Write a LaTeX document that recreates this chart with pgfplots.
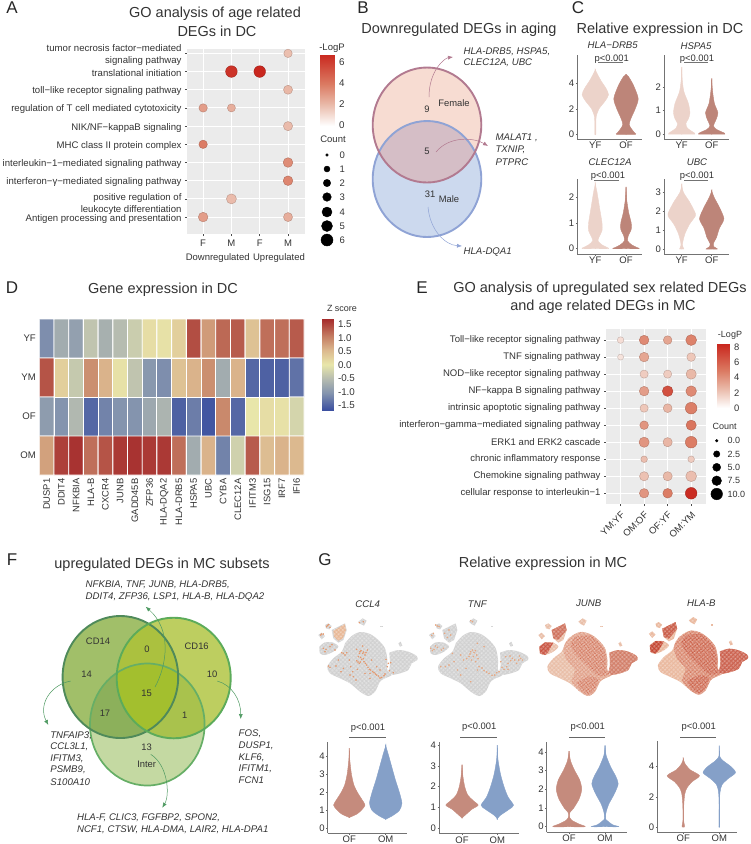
\documentclass[border=0pt]{standalone}
\usepackage{fontspec}
\setmainfont{Liberation Sans}
\usepackage{pgfplots}
\usepackage{pgfplotstable}
\pgfplotsset{compat=1.18}
\usetikzlibrary{patterns.meta,arrows.meta}

\definecolor{ink}{HTML}{333333}
\definecolor{yfc}{HTML}{ECD3CA}
\definecolor{ofc}{HTML}{BD8579}
\definecolor{ofg}{HTML}{C58B7D}
\definecolor{omg}{HTML}{85A0C8}
\newcommand{\hc}[1]{\definecolor{#1}{HTML}{#1}}
\hc{F7DCD2}\hc{CCD9EE}\hc{D5BEC6}\hc{8FA3D5}\hc{B27A90}\hc{C4D9A2}\hc{A1BF69}\hc{BDCE60}
\hc{ABC13F}\hc{8CB05B}\hc{A9C24D}\hc{A3BF2E}\hc{66AE66}\hc{4F8A5A}\hc{5CAB5A}\hc{4F9A62}
\hc{E8B795}\hc{E5976B}\hc{E8A67F}\hc{E9BDA6}\hc{DB8C74}\hc{D27C66}\hc{C9523F}\hc{CE6F5A}
\hc{C2402C}\hc{EAB79C}\hc{D26E58}\hc{CB5F4C}\hc{C4442F}\hc{C95A45}\hc{BC3826}\hc{D0654D}
\newcommand{\fz}[1]{\fontsize{#1}{#1}\selectfont}

\tikzset{
  ttl/.style={font=\fz{14.5},text=ink},
  let/.style={font=\fz{17},text=black!85},
  gn/.style={font=\fz{9.65}\itshape,text=ink},
  lab/.style={font=\fz{9.4},text=ink},
  grain/.style={pattern={Dots[radius=.27pt,distance=1.25pt,angle=17]},pattern color=white},
  speck/.style={pattern={Dots[radius=.27pt,distance=1.5pt,angle=-23]},pattern color=#1},
}
\pgfplotsset{
  colormap={golog}{rgb255(0)=(255,255,255) rgb255(20)=(233,184,167) rgb255(38)=(219,122,98) rgb255(65)=(201,39,30)},
  colormap={zscore}{rgb255(0)=(60,80,160) rgb255(6)=(132,148,174) rgb255(11)=(182,188,176) rgb255(16)=(232,230,170) rgb255(21)=(220,185,143) rgb255(26)=(196,125,99) rgb255(32)=(166,44,44)},
  every axis/.append style={scale only axis,/pgf/number format/assume math mode=true,
    tick label style={font=\fz{9.5},text=ink}},
  place/.style n args={4}{at={(#1pt,-#2pt)},anchor=north west,width=#3pt,height=#4pt},
  dots/.style={only marks,scatter,scatter src=explicit,mark=*,
    visualization depends on={\thisrow{r}\as\rr},
    scatter/@pre marker code/.append style={/tikz/mark size=\rr}},
  goaxis/.style={colormap name=golog,point meta min=0,point meta max=6.8,
    axis background/.style={fill=black!8},axis line style={draw=none},
    grid=major,grid style={white,line width=1pt},
    xtick pos=bottom,ytick pos=left,tick align=outside,major tick length=2pt,
    tick style={black!70,line width=.6pt},
    yticklabel style={align=right},clip=false},
  bar/.style={xmin=0,xmax=1,xtick=\empty,axis line style={draw=none},
    ytick pos=right,yticklabel pos=right,tick align=inside,major tick length=3pt,
    tick style={white,line width=.5pt},
    yticklabel style={xshift=1.5pt,font=\fz{9.8}}},
  vio/.style={xmin=0,axis x line*=bottom,axis y line*=left,
    axis line style={black!55,line width=.9pt,-},
    tick style={black!60,line width=.5pt},major tick length=1.5pt,tick align=outside,
    xticklabels={YF,OF},enlargelimits=false,
    x tick label style={yshift=2pt},y tick label style={xshift=2pt}},
  tsne/.style={xmin=0,xmax=660,ymin=0,ymax=300,y dir=reverse,hide axis,clip=false},
}
\newcommand{\violin}[3]{%
  \addplot[fill=#2,draw=#2,line width=.4pt,smooth,tension=.45] table[row sep=\\,x expr=#1-\thisrow{w}+.3,y=y]{#3} -- cycle;
  \addplot[fill=#2,draw=#2,line width=.4pt,smooth,tension=.45] table[row sep=\\,x expr=#1+\thisrow{w}-.3,y=y]{#3} -- cycle;}

% GO dots, panel A
\pgfplotstableread{
x y r v
4 10 4.2 1.9
2 9 5.8 6.4
3 9 5.8 6.8
4 8 4.5 2.1
1 7 4.2 2.9
2 7 4.0 2.4
4 6 4.6 2.0
1 5 4.2 3.9
4 4 4.8 3.4
4 3 4.8 3.6
2 2 5.0 2.0
1 1 4.8 2.9
4 1 4.5 2.4
}\goA
% GO dots, panel E
\pgfplotstableread{
x y r v
1 10 3.3 1.2
2 10 4.8 4.2
3 10 4.3 3.2
4 10 5.4 4.5
1 9 3.0 1.0
2 9 4.8 3.2
4 9 4.3 2.0
2 8 4.1 1.8
3 8 4.1 1.8
4 8 5.1 2.5
2 7 4.8 3.5
3 7 5.3 6.5
4 7 5.3 4.2
2 6 4.1 2.0
3 6 4.4 2.6
4 6 5.8 4.6
2 5 4.3 3.8
4 5 5.1 5.0
2 4 5.1 3.8
3 4 4.6 2.6
4 4 5.8 4.7
2 3 3.3 2.3
4 3 3.3 1.8
2 2 4.6 2.2
3 2 4.6 2.5
4 2 5.4 2.3
2 1 4.7 3.8
3 1 4.8 4.7
4 1 5.8 8.0
}\goE
% size legends, page position
\pgfplotstableread{
x y r
327 155 1.3
327 169 3.0
327 183 3.7
327 197 4.3
327 212 5.0
327 226 5.5
327 240 6.0
716.7 440.7 1.3
716.7 454 3.2
716.7 467.3 4.0
716.7 480.7 4.8
716.7 494 5.8
}\sizes
% expressing cells on the tSNE maps
\pgfplotstableread{
x y
150 125
158 130
165 135
145 140
155 148
162 155
140 152
148 160
170 165
178 178
188 185
196 192
205 198
215 202
225 192
235 160
242 158
228 148
250 188
120 195
130 200
118 150
95 128
105 135
60 172
55 168
85 150
140 118
172 120
185 150
158 108
200 170
210 180
122 170
100 175
138 210
165 190
180 205
75 120
45 125
60 110
40 115
35 72
50 50
56 44
60 52
148 38
160 35
153 122
161 126
148 130
168 128
152 142
160 146
144 156
151 156
166 160
174 172
182 180
192 188
200 195
210 204
222 197
238 182
232 170
110 128
100 130
180 190
142 178
128 185
93 185
78 168
48 118
66 104
32 75
40 72
52 46
}\hotccl
\pgfplotstableread{
x y
150 125
160 128
168 135
145 140
152 150
165 155
120 135
128 150
95 130
175 170
190 182
205 190
222 195
235 185
250 178
262 160
275 145
288 160
296 138
305 150
255 140
240 155
190 110
170 100
120 195
150 215
85 165
60 170
40 118
50 112
62 120
35 122
55 50
45 45
38 70
72 70
85 60
155 35
155 120
164 122
148 132
158 140
172 146
138 146
170 180
184 174
198 186
214 196
228 188
244 172
258 170
270 152
282 150
294 150
268 138
300 145
262 178
136 175
110 180
100 155
74 170
44 108
30 115
68 115
90 75
80 82
50 48
33 76
150 32
}\hottnf

\newcommand{\blobs}[1]{%
  \addplot[#1,smooth,tension=.5] coordinates {(105,100)(125,78)(150,66)(180,72)(205,90)(225,115)(232,150)(232,180)(245,195)(225,205)(210,215)(195,245)(175,258)(150,245)(120,220)(90,205)(60,190)(52,170)(70,145)(95,125)(105,100)};
  \addplot[#1,smooth,tension=.5] coordinates {(238,128)(265,120)(295,125)(320,138)(322,150)(305,160)(295,180)(270,190)(245,195)(235,190)(240,165)(238,128)};
  \addplot[#1,smooth,tension=.5] coordinates {(28,110)(45,97)(70,98)(85,110)(70,125)(45,135)(30,130)(28,110)};
  \addplot[#1] coordinates {(65,60)(85,50)(105,40)(110,60)(100,90)(85,98)(70,85)};
  \addplot[#1] coordinates {(25,75)(35,68)(45,78)(35,88)};
  \addplot[#1] coordinates {(45,45)(55,40)(65,48)(58,58)(48,55)};
  \addplot[#1] coordinates {(145,35)(158,25)(170,32)(162,47)(152,42)};
  \addplot[#1] coordinates {(265,100)(272,95)(277,107)(270,110)};
  \addplot[#1] coordinates {(210,47)(218,47)(218,52)(210,52)};}
\newcommand{\hotwide}[1]{%
  \addplot[#1,smooth,tension=.5] coordinates {(115,85)(150,66)(180,72)(205,90)(225,115)(232,150)(232,180)(245,195)(225,205)(210,215)(195,245)(175,258)(150,245)(125,215)(135,180)(110,150)(100,115)(115,85)};}
\newcommand{\hotparts}[1]{%
  \addplot[#1,smooth,tension=.5] coordinates {(135,80)(180,76)(203,93)(222,118)(229,150)(229,180)(240,192)(205,197)(175,170)(140,135)(122,105)(135,80)};
  \addplot[#1,smooth,tension=.5] coordinates {(140,218)(175,200)(205,208)(192,242)(175,254)(155,242)(140,218)};}

\begin{document}
\begin{tikzpicture}
\path[use as bounding box] (0,0) rectangle (751pt,-844pt);

% everything that is only text, arrows, size legends and Venn shapes sits on a page-sized axis
\begin{axis}[place={0}{0}{751}{844},xmin=0,xmax=751,ymin=0,ymax=844,y dir=reverse,hide axis,clip=false]
% panel letters
\node[let] at (12,8) {A};
\node[let] at (363,8) {B};
\node[let] at (578,8) {C};
\node[let] at (12,288) {D};
\node[let] at (422,288) {E};
\node[let] at (12,560) {F};
\node[let] at (325,560) {G};
% titles
\node[ttl] at (215,14) {GO analysis of age related};
\node[ttl] at (217,31) {DEGs in DC};
\node[ttl] at (459,30) {Downregulated DEGs in aging};
\node[ttl] at (660,30) {Relative expression in DC};
\node[ttl] at (163,290) {Gene expression in DC};
\node[ttl] at (600,289) {GO analysis of upregulated sex related DEGs};
\node[ttl] at (603,307) {and age related DEGs in MC};
\node[ttl] at (162,565) {upregulated DEGs in MC subsets};
\node[ttl] at (543,564) {Relative expression in MC};
% panel A extras
\node[lab,font=\fz{9.5}] at (217.7,258) {Downregulated};
\node[lab,font=\fz{9.5}] at (279,258) {Upregulated};
\node[lab,font=\fz{9.5}] at (332,48) {-LogP};
\node[lab,font=\fz{9.5}] at (333,139) {Count};
\addplot[only marks,scatter,scatter src=y,mark=*,scatter/use mapped color={draw=black,fill=black},
  visualization depends on={\thisrow{r}\as\rr},
  scatter/@pre marker code/.append style={/tikz/mark size=\rr}] table[x=x,y=y] {\sizes};
\node[lab,anchor=west,font=\fz{9.5}] at (336,155) {0};
\node[lab,anchor=west,font=\fz{9.5}] at (336,169) {1};
\node[lab,anchor=west,font=\fz{9.5}] at (336,183) {2};
\node[lab,anchor=west,font=\fz{9.5}] at (336,197) {3};
\node[lab,anchor=west,font=\fz{9.5}] at (336,212) {4};
\node[lab,anchor=west,font=\fz{9.5}] at (336,226) {5};
\node[lab,anchor=west,font=\fz{9.5}] at (336,240) {6};
% panel E extras
\node[lab,font=\fz{9}] at (730,335) {-LogP};
\node[lab,font=\fz{9}] at (724.7,426.7) {Count};
\node[lab,anchor=west,font=\fz{9}] at (724,440.7) {0.0};
\node[lab,anchor=west,font=\fz{9}] at (724,454) {2.5};
\node[lab,anchor=west,font=\fz{9}] at (724,467.3) {5.0};
\node[lab,anchor=west,font=\fz{9}] at (724,480.7) {7.5};
\node[lab,anchor=west,font=\fz{9}] at (724,494) {10.0};
\node[lab,font=\fz{9}] at (342,308) {Z score};

% Venn, panel B
\fill[fill=F7DCD2] (427,125) circle[x radius=54.3pt,y radius=57.5pt];
\fill[fill=CCD9EE] (427,179) circle[x radius=54.3pt,y radius=58pt];
\begin{scope}
\clip (427,125) circle[x radius=54.3pt,y radius=57.5pt];
\fill[fill=D5BEC6] (427,179) circle[x radius=54.3pt,y radius=58pt];
\end{scope}
\draw[draw=8FA3D5,line width=1.9pt] (427,179) circle[x radius=54.3pt,y radius=58pt];
\draw[draw=B27A90,line width=1.9pt] (427,125) circle[x radius=54.3pt,y radius=57.5pt];
\draw[B27A90,-{Latex[length=5pt,width=4pt]},line width=.5pt] (429,97) .. controls (429,70) and (445,58) .. (453,57);
\draw[B27A90,-{Latex[length=5pt,width=4pt]},line width=.5pt] (436,152) .. controls (450,135) and (475,138) .. (488,146);
\draw[8FA3D5,-{Latex[length=5pt,width=4pt]},line width=.5pt] (428,207) .. controls (430,230) and (445,245) .. (462,246);
\node[lab] at (427,109) {9};
\node[lab] at (454,103) {Female};
\node[lab] at (427,151) {5};
\node[lab] at (430,194) {31};
\node[lab] at (449,199) {Male};
\node[gn,anchor=west] at (460,52) {HLA-DRB5, HSPA5,};
\node[gn,anchor=west] at (460,62.5) {CLEC12A, UBC};
\node[gn,anchor=west] at (492,138) {MALAT1 ,};
\node[gn,anchor=west] at (492,150) {TXNIP,};
\node[gn,anchor=west] at (492,161.7) {PTPRC};
\node[gn,anchor=west] at (460,252) {HLA-DQA1};

% Venn, panel F
\def\va{(120.4,677) circle[x radius=57.8pt,y radius=61pt]}
\def\vb{(173.7,678) circle[x radius=57pt,y radius=60.3pt]}
\def\vc{(147.3,724.5) circle[x radius=57.3pt,y radius=61pt]}
\fill[fill=C4D9A2] \vc;
\fill[fill=A1BF69] \va;
\fill[fill=BDCE60] \vb;
\begin{scope}\clip \va;\fill[fill=ABC13F] \vb;\end{scope}
\begin{scope}\clip \va;\fill[fill=8CB05B] \vc;\end{scope}
\begin{scope}\clip \vb;\fill[fill=A9C24D] \vc;\end{scope}
\begin{scope}\clip \va;\clip \vb;\fill[fill=A3BF2E] \vc;\end{scope}
\draw[draw=66AE66,line width=1.7pt] \vc;
\draw[draw=4F8A5A,line width=1.9pt] \va;
\draw[draw=5CAB5A,line width=1.9pt] \vb;
\draw[4F9A62,-{Latex[length=5pt,width=4pt]},line width=.5pt] (155,687) .. controls (167,665) and (172,630) .. (145.7,606.7);
\draw[4F9A62,-{Latex[length=5pt,width=4pt]},line width=.5pt] (70.7,681) .. controls (50,685) and (38,705) .. (48.3,725);
\draw[4F9A62,-{Latex[length=5pt,width=4pt]},line width=.5pt] (217.3,681) .. controls (232,685) and (241,700) .. (240.7,719);
\draw[4F9A62,-{Latex[length=5pt,width=4pt]},line width=.5pt] (150.7,754.3) .. controls (168,765) and (170,795) .. (162.3,807.7);
\node[lab] at (98,641.7) {CD14};
\node[lab] at (86.7,674) {14};
\node[lab] at (147,649) {0};
\node[lab] at (196.7,646) {CD16};
\node[lab] at (212,674.7) {10};
\node[lab] at (146.7,693) {15};
\node[lab] at (105,713) {17};
\node[lab] at (184.7,715) {1};
\node[lab] at (146.7,747) {13};
\node[lab] at (146.7,764) {Inter};
\node[gn,anchor=west] at (82.2,585) {NFKBIA, TNF, JUNB, HLA-DRB5,};
\node[gn,anchor=west] at (82.2,596.7) {DDIT4, ZFP36, LSP1, HLA-B, HLA-DQA2};
\node[gn,anchor=west] at (46.8,735.7) {TNFAIP3,};
\node[gn,anchor=west] at (46.8,746.7) {CCL3L1,};
\node[gn,anchor=west] at (46.8,758.3) {IFITM3,};
\node[gn,anchor=west] at (46.8,770) {PSMB9,};
\node[gn,anchor=west] at (46.8,781.7) {S100A10};
\node[gn,anchor=west] at (235.2,733.3) {FOS,};
\node[gn,anchor=west] at (235.2,745.7) {DUSP1,};
\node[gn,anchor=west] at (235.2,757.3) {KLF6,};
\node[gn,anchor=west] at (235.2,768.3) {IFITM1,};
\node[gn,anchor=west] at (235.2,780.3) {FCN1};
\node[gn,anchor=west] at (73.5,817.7) {HLA-F, CLIC3, FGFBP2, SPON2,};
\node[gn,anchor=west] at (73.5,829.3) {NCF1, CTSW, HLA-DMA, LAIR2, HLA-DPA1};

% panel C names and p values
\node[gn] at (612.7,45.7) {HLA−DRB5};
\node[gn] at (696,45.7) {HSPA5};
\node[gn] at (610,162) {CLEC12A};
\node[gn] at (697,162) {UBC};
\node[lab] at (611.7,59.3) {p<0.001};
\node[lab] at (697,59.3) {p<0.001};
\node[lab] at (608,176) {p<0.001};
\node[lab] at (697,176) {p<0.001};
\draw[black!55,line width=.8pt] (598,62.5) -- (623,62.5);
\draw[black!55,line width=.8pt] (684,62.5) -- (708,62.5);
\draw[black!55,line width=.8pt] (594,180) -- (619.3,180);
\draw[black!55,line width=.8pt] (684,180) -- (708,180);
% panel G names and p values
\node[gn] at (367.7,604) {CCL4};
\node[gn] at (477.3,604) {TNF};
\node[gn] at (588.7,603.7) {JUNB};
\node[gn] at (701.3,603) {HLA-B};
\node[lab] at (368,728) {p<0.001};
\node[lab] at (479.3,727.3) {p<0.001};
\node[lab] at (587.7,727) {p<0.001};
\node[lab] at (698.7,727) {p<0.001};
\draw[black!60,line width=.7pt] (349,737.7) -- (385.7,737.7);
\draw[black!60,line width=.7pt] (460,737) -- (496.7,737);
\draw[black!60,line width=.7pt] (569,737) -- (605,737);
\draw[black!60,line width=.7pt] (680,737) -- (716,737);
\end{axis}

% panel A
\begin{axis}[place={187}{49}{118}{185},goaxis,xmin=.43,xmax=4.6,ymin=.07,ymax=10.24,
  xtick={1,2,3,4},xticklabels={F,M,F,M},ytick={1,...,10},
  xticklabel style={font=\fz{9.5}},
  yticklabel style={font=\fontsize{9.6}{12}\selectfont,yshift=-1.5pt},
  yticklabels={Antigen processing and presentation,
    {\rule{0pt}{15pt}positive regulation of\\leukocyte differentiation},
    interferon−γ−mediated signaling pathway,
    interleukin−1−mediated signaling pathway,
    MHC class II protein complex,
    NIK/NF−kappaB signaling,
    regulation of T cell mediated cytotoxicity,
    toll−like receptor signaling pathway,
    translational initiation,
    {tumor necrosis factor−mediated\\signaling pathway}}]
\addplot[dots] table[x=x,y=y,meta=v] {\goA};
\end{axis}
\begin{axis}[place={320}{55}{14}{70.6},bar,colormap name=golog,point meta min=0,point meta max=6.8,
  ymin=0,ymax=6.7,ytick={0,2,4,6}]
\addplot[surf,shader=interp,mesh/rows=2,point meta=y] coordinates {(0,0)(1,0)(0,6.7)(1,6.7)};
\end{axis}

% panel C
\begin{axis}[place={577.3}{55}{64.4}{84},vio,xmax=64.4,ymin=-.37,ymax=6.22,xtick={18,48.7},ytick={0,2,4}]
\violin{18}{yfc}{y w\\5.1 0\\4.7 2.5\\4.2 6\\3.6 11\\3.1 13.5\\2.6 10\\2.0 4\\1.4 1.2\\0.8 .8\\0 .8\\0 0\\}
\violin{48.7}{ofc}{y w\\4.7 0\\4.5 3\\3.8 8\\2.8 12.5\\2.0 9.5\\1.2 5\\.75 3.5\\.4 6\\.1 9\\0 10\\0 0\\}
\end{axis}
\begin{axis}[place={664}{55}{65}{84},vio,xmax=65,ymin=-.21,ymax=3.36,xtick={17.7,47.7},ytick={0,1,2}]
\violin{17.7}{yfc}{y w\\2.85 0\\2.3 .8\\1.8 2.5\\1.3 7\\.9 8.5\\.65 7\\.45 4.5\\.25 6\\.1 11\\0 13.5\\0 0\\}
\violin{47.7}{ofc}{y w\\2.37 0\\1.8 1.2\\1.3 3\\.9 6.5\\.6 4.5\\.35 2\\.2 5\\.08 11\\0 13.5\\0 0\\}
\end{axis}
\begin{axis}[place={577.3}{179}{64.4}{75},vio,xmax=64.4,ymin=-.206,ymax=2.71,xtick={18,48.7},ytick={0,1,2}]
\violin{18}{yfc}{y w\\2.55 0\\2.2 2\\1.6 4.5\\1 7\\.7 7\\.45 4\\.3 3\\.15 7\\.05 12\\0 13.5\\0 0\\}
\violin{48.7}{ofc}{y w\\2.4 0\\1.9 1\\1.4 3\\1 5.5\\.75 5.5\\.5 2.5\\.3 2\\.15 6\\.05 11\\0 13.5\\0 0\\}
\end{axis}
\begin{axis}[place={664}{179}{65}{75},vio,xmax=65,ymin=-.265,ymax=3.7,xtick={17.7,47.7},ytick={0,1,2,3}]
\violin{17.7}{yfc}{y w\\3.45 0\\3 2\\2.5 8\\2 13\\1.75 14\\1.3 8\\.8 3.5\\.4 1.5\\.2 1\\.05 2\\0 2.5\\0 0\\}
\violin{47.7}{ofc}{y w\\3.1 0\\2.7 3\\2.2 8\\1.6 12.5\\1.1 8\\.6 5\\.3 2\\.12 2.5\\0 6\\0 0\\}
\end{axis}

% panel D
\begin{axis}[place={39.3}{319}{264.7}{156},colormap name=zscore,point meta min=-1.6,point meta max=1.6,
  xmin=-.5,xmax=17.5,ymin=-.5,ymax=3.5,y dir=reverse,axis line style={draw=none},
  major tick length=0pt,xtick={0,...,17},ytick={0,1,2,3},yticklabels={YF,YM,OF,OM},
  xticklabels={DUSP1,DDIT4,NFKBIA,HLA-B,CXCR4,JUNB,GADD45B,ZFP36,HLA-DQA2,HLA-DRB5,HSPA5,UBC,CYBA,CLEC12A,IFITM3,ISG15,IRF7,IFI6},
  xticklabel style={rotate=90,anchor=east,font=\fz{9.4}},yticklabel style={font=\fz{9.6}}]
\addplot[matrix plot*,mesh/cols=18,point meta=explicit,draw=white,line width=.9pt] coordinates {
(0,0)[-1.05](1,0)[-.7](2,0)[-.85](3,0)[-.4](4,0)[-.65](5,0)[-.5](6,0)[-.3](7,0)[.1](8,0)[.05](9,0)[.25](10,0)[1.35](11,0)[.75](12,0)[1.15](13,0)[1.25](14,0)[.4](15,0)[1.1](16,0)[1.1](17,0)[1.25]
(0,1)[1.3](1,1)[.25](2,1)[-.35](3,1)[.85](4,1)[.55](5,1)[.05](6,1)[-.4](7,1)[-.95](8,1)[-1.05](9,1)[.4](10,1)[.55](11,1)[.85](12,1)[-.7](13,1)[.55](14,1)[-1.4](15,1)[-1.45](16,1)[-1.45](17,1)[-1.3]
(0,2)[-.9](1,2)[-1](2,2)[-.55](3,2)[-1.4](4,2)[-1.15](5,2)[-1](6,2)[-1](7,2)[-.75](8,2)[-.6](9,2)[-1.45](10,2)[-1.2](11,2)[-1.55](12,2)[.9](13,2)[-1.4](14,2)[0](15,2)[.1](16,2)[.05](17,2)[-.2]
(0,3)[.7](1,3)[1.45](2,3)[1.55](3,3)[1.1](4,3)[1.3](5,3)[1.5](6,3)[1.55](7,3)[1.5](8,3)[1.5](9,3)[1.1](10,3)[-.7](11,3)[.55](12,3)[-1.15](13,3)[-.25](14,3)[1.25](15,3)[.45](16,3)[.55](17,3)[.5]
};
\end{axis}
\begin{axis}[place={322}{319}{11}{91},bar,colormap name=zscore,point meta min=-1.6,point meta max=1.6,
  ymin=-1.67,ymax=1.71,ytick={-1.5,-1,...,1.5},yticklabels={-1.5,-1.0,-0.5,0.0,0.5,1.0,1.5}]
\addplot[surf,shader=interp,mesh/rows=2,point meta=y] coordinates {(0,-1.67)(1,-1.67)(0,1.71)(1,1.71)};
\end{axis}

% panel E
\begin{axis}[place={606}{329}{100}{175},goaxis,point meta max=8.2,xmin=.38,xmax=4.63,ymin=.37,ymax=10.65,
  xtick={1,2,3,4},xticklabels={YM:YF,OM:OF,OF:YF,OM:YM},ytick={1,...,10},
  xticklabel style={rotate=45,anchor=north east,font=\fz{9.5}},
  yticklabel style={font=\fz{9.55}},
  yticklabels={cellular response to interleukin−1,
    Chemokine signaling pathway,
    chronic inflammatory response,
    ERK1 and ERK2 cascade,
    interferon−gamma−mediated signaling pathway,
    intrinsic apoptotic signaling pathway,
    NF−kappa B signaling pathway,
    NOD−like receptor signaling pathway,
    TNF signaling pathway,
    Toll−like receptor signaling pathway}]
\addplot[dots] table[x=x,y=y,meta=v] {\goE};
\end{axis}
\begin{axis}[place={717}{343.7}{12}{64.6},bar,colormap name=golog,point meta min=0,point meta max=8.4,
  ymin=0,ymax=8.4,ytick={0,2,4,6,8},yticklabel style={font=\fz{9.4}}]
\addplot[surf,shader=interp,mesh/rows=2,point meta=y] coordinates {(0,0)(1,0)(0,8.4)(1,8.4)};
\end{axis}

% panel G, maps
\begin{axis}[place={310}{610}{220}{100},tsne]
\blobs{fill=black!18,draw=none}
\addplot[fill=E8B795,draw=none] coordinates {(70,62)(88,52)(104,42)(108,60)(98,86)(84,92)(72,80)};
\blobs{grain,draw=none}
\addplot[only marks,mark=*,mark size=.55pt,E5976B] table[x=x,y=y] {\hotccl};
\end{axis}
\begin{axis}[place={420.7}{610}{220}{100},tsne]
\blobs{fill=black!18,draw=none}
\blobs{grain,draw=none}
\addplot[only marks,mark=*,mark size=.55pt,E8A67F] table[x=x,y=y] {\hottnf};
\end{axis}
\begin{axis}[place={530}{610}{220}{100},tsne]
\blobs{fill=E9BDA6,draw=none}
\hotwide{fill=DB8C74,fill opacity=.35,draw=none}
\hotparts{fill=DB8C74,fill opacity=.5,draw=none}
\addplot[fill=D27C66,draw=none,smooth,tension=.5] coordinates {(238,128)(265,120)(295,125)(320,138)(322,150)(305,160)(295,180)(270,190)(245,195)(235,190)(240,165)(238,128)};
\addplot[fill=C9523F,draw=none] coordinates {(28,110)(45,97)(70,98)(55,125)(45,135)(30,130)};
\addplot[fill=CE6F5A,draw=none] coordinates {(65,60)(85,50)(105,40)(110,60)(85,90)(70,85)};
\hotwide{speck=D0654D,draw=none}
\hotparts{speck=C2402C,draw=none}
\blobs{grain,draw=none}
\end{axis}
\begin{axis}[place={640.5}{608.7}{220}{100},tsne]
\blobs{fill=EAB79C,draw=none}
\hotwide{fill=D26E58,fill opacity=.45,draw=none}
\hotparts{fill=D26E58,fill opacity=.55,draw=none}
\addplot[fill=CB5F4C,draw=none,smooth,tension=.5] coordinates {(238,128)(265,120)(295,125)(320,138)(322,150)(305,160)(295,180)(270,190)(245,195)(235,190)(240,165)(238,128)};
\addplot[fill=C4442F,draw=none] coordinates {(28,110)(45,97)(70,98)(55,125)(45,135)(30,130)};
\addplot[fill=C95A45,draw=none] coordinates {(65,60)(85,50)(105,40)(110,60)(85,90)(70,85)};
\hotwide{speck=C2402C,draw=none}
\hotparts{speck=BC3826,draw=none}
\blobs{grain,draw=none}
\end{axis}

% panel G, violins
\begin{axis}[place={327.7}{742.3}{79.6}{90.7},vio,xmax=79.6,ymin=-.26,ymax=4.8,xtick={21.6,58},xticklabels={OF,OM},ytick={0,...,4}]
\violin{21.6}{ofg}{y w\\4.47 0\\3.8 .8\\3 2.5\\2.4 5\\2 8.5\\1.6 13\\1.3 16\\1.05 13\\.8 8\\.6 0\\}
\violin{58}{omg}{y w\\4.65 0\\4.2 2.5\\3.5 6\\2.7 10\\2 14\\1.4 16.5\\1 14\\.7 7\\.5 0\\}
\end{axis}
\begin{axis}[place={439}{742.3}{80}{91.4},vio,xmax=80,ymin=-.275,ymax=4.14,xtick={23,58.3},xticklabels={OF,OM},ytick={0,...,4}]
\violin{23}{ofg}{y w\\3.06 0\\2.5 1.2\\2 3\\1.6 6\\1.3 12\\1.1 16.5\\.9 10\\.6 3\\.48 0\\}
\violin{58.3}{omg}{y w\\4 0\\3.3 1\\2.6 3.5\\2 7\\1.5 11\\1.1 16.5\\.9 12\\.6 3\\.42 0\\}
\end{axis}
\begin{axis}[place={546.7}{741.7}{80}{90.6},vio,xmax=80,ymin=-.3,ymax=4.55,xtick={22.3,58.3},xticklabels={OF,OM},ytick={0,...,4}]
\violin{22.3}{ofg}{y w\\4.05 0\\3.5 2\\3 6\\2.5 11\\2 13\\1.5 10.5\\1 5\\.75 1\\.55 .5\\.35 3\\.15 10\\0 16.5\\0 0\\}
\violin{58.3}{omg}{y w\\4.35 0\\3.8 1.5\\3.2 6\\2.7 11\\2.3 13.5\\1.8 10\\1.2 4\\.8 1.5\\.45 .5\\.3 3\\.1 8\\0 14\\0 0\\}
\end{axis}
\begin{axis}[place={657.3}{741}{80}{91},vio,xmax=80,ymin=-.33,ymax=5.7,xtick={26,62},xticklabels={OF,OM},ytick={0,2,4}]
\violin{26}{ofg}{y w\\4.55 0\\4.2 2\\3.8 7\\3.4 16.5\\3 9\\2.6 4\\2.2 1.8\\1.5 .8\\.5 .5\\.1 1.5\\0 1.5\\0 0\\}
\violin{62}{omg}{y w\\5.4 0\\4.7 .6\\4.4 4\\4 12\\3.6 16.5\\3.2 9\\2.8 3\\2.3 1\\1.5 .4\\.1 .6\\0 .6\\0 0\\}
\end{axis}
\end{tikzpicture}
\end{document}
